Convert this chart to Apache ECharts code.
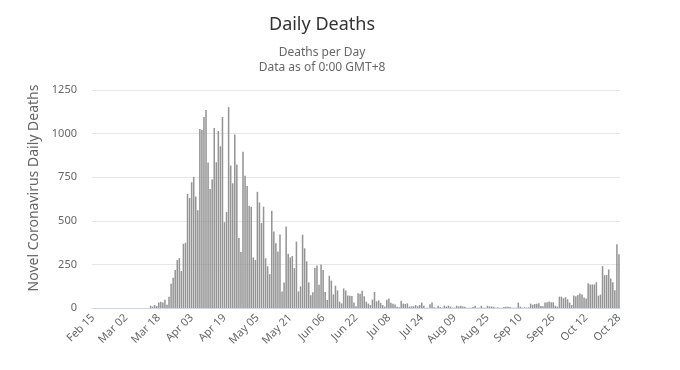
<!DOCTYPE html>
<html>
<head>
<meta charset="utf-8">
<script src="https://cdn.jsdelivr.net/npm/echarts@6/dist/echarts.min.js"></script>
<style>
html,body{margin:0;padding:0;background:#fff;}
#chart{width:680px;height:370px;}
</style>
</head>
<body>
<div id="chart"></div>
<script>
// ---- data ----
const startDate = { year: 2020, month: 2, day: 15 };
const dayCount = 257;
const monthNames = ['Jan','Feb','Mar','Apr','May','Jun','Jul','Aug','Sep','Oct','Nov','Dec'];

const deathsFebMar = [
  0,0,0,0,0,0,0,0,0,0,0,0,0,0,0,0,0,0,0,0,0,0,0,0,0,0,0,0,
  13,8,17,11,31,36,31,48,19,65,139,174,218,275,286,212,368,374
];
const deathsAprMay = [
  654,631,721,752,639,561,1027,1021,1095,1135,835,683,737,1032,836,1015,927,1095,492,551,
  1152,817,715,995,823,401,321,896,759,700,586,581,290,275,666,605,487,581,285,239,
  194,557,439,371,324,421,94,146,467,311,290,298,229,381,95,124,420,342,268,147
];
const deathsJunJul = [
  73,90,230,243,133,250,218,92,46,185,157,78,128,101,36,26,112,100,72,70,
  69,32,10,84,82,99,67,36,25,17,48,92,38,44,30,17,8,48,54,30,
  25,20,7,4,42,25,23,27,8,10,10,17,10,17,31,13,2,2,21,31
];
const deathsAugOct = [
  4,2,13,5,2,13,8,13,7,2,2,13,9,13,9,7,2,2,2,6,
  13,2,2,13,2,2,13,9,9,7,2,4,2,2,6,7,7,6,2,2,
  2,31,8,2,4,2,4,25,19,23,25,27,12,10,31,33,37,33,33,13,
  8,65,65,56,62,50,31,17,71,67,75,83,77,60,54,142,135,135,135,148,
  71,77,240,188,189,221,169,148,102,365,308
];
const dailyDeaths = deathsFebMar.concat(deathsAprMay, deathsJunJul, deathsAugOct);

const yTicks = [0, 250, 500, 750, 1000, 1250];

const titleText = 'Daily Deaths';
const subtitleText = 'Deaths per Day\nData as of 0:00 GMT+8';
const yAxisName = 'Novel Coronavirus Daily Deaths';

// categories (consecutive calendar days)
const categories = [];
for (let i = 0; i < dayCount; i++) {
  const d = new Date(Date.UTC(startDate.year, startDate.month - 1, startDate.day + i));
  const dd = d.getUTCDate();
  categories.push(monthNames[d.getUTCMonth()] + ' ' + (dd < 10 ? '0' + dd : dd));
}

const chart = echarts.init(document.getElementById('chart'), null, { renderer: 'canvas' });
const font = '"Noto Sans", sans-serif';
chart.setOption({
  animation: false,
  backgroundColor: '#ffffff',
  textStyle: { fontFamily: font },
  title: [
    { text: titleText, left: 317, top: 11, textAlign: 'center',
      textStyle: { fontSize: 18, fontWeight: 'normal', color: '#333333', fontFamily: font } },
    { text: subtitleText, left: 317, top: 40, textAlign: 'center',
      textStyle: { fontSize: 12, fontWeight: 'normal', color: '#666666', lineHeight: 15, fontFamily: font } }
  ],
  grid: { left: 92, right: 60, top: 90, bottom: 62, containLabel: false },
  xAxis: {
    type: 'category',
    data: categories,
    boundaryGap: true,
    axisLine: { lineStyle: { color: '#ccd6eb', width: 1 } },
    axisTick: { show: false },
    axisLabel: { interval: 15, rotate: 45, margin: 8, color: '#666666', fontSize: 11, fontFamily: font },
    splitLine: { show: false }
  },
  yAxis: {
    type: 'value',
    min: yTicks[0],
    max: yTicks[yTicks.length - 1],
    interval: yTicks[1] - yTicks[0],
    name: yAxisName,
    nameLocation: 'middle',
    nameGap: 45,
    nameTextStyle: { color: '#666666', fontSize: 14, fontFamily: font, padding: [0, 0, 0, 22] },
    axisLine: { show: false },
    axisTick: { show: false },
    axisLabel: { color: '#666666', fontSize: 11, margin: 15, fontFamily: font,
      formatter: function (v) { return String(v); } },
    splitLine: { lineStyle: { color: '#e6e6e6', width: 1 } }
  },
  series: [{
    type: 'bar',
    data: dailyDeaths,
    barCategoryGap: '25%',
    itemStyle: { color: '#959595' },
    emphasis: { disabled: true }
  }]
});
</script>
</body>
</html>
